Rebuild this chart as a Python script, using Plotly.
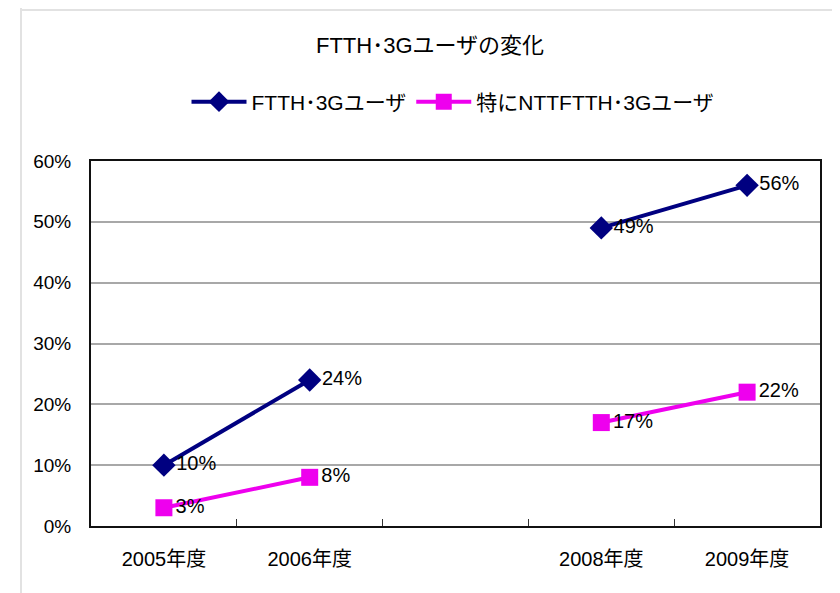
import plotly.graph_objects as go

# data
categories = ["2005年度", "2006年度", "", "2008年度", "2009年度"]
ftth_3g = [0.10, 0.24, None, 0.49, 0.56]
ntt_ftth_3g = [0.03, 0.08, None, 0.17, 0.22]
series_names = ["FTTH･3Gユーザ", "特にNTTFTTH･3Gユーザ"]
title = "FTTH･3Gユーザの変化"

FONT = "Liberation Sans, Arial, Noto Sans CJK JP, sans-serif"
# the page body adds an 8px margin, so the figure is drawn a bit smaller
W, H = 832, 585
L, R, T, B = 83, 20, 153, 67

x = list(range(len(categories)))


def labels(vals):
    return ["" if v is None else "{:.0f}%".format(v * 100) for v in vals]


fig = go.Figure()
fig.add_trace(go.Scatter(
    x=x, y=ftth_3g, name=series_names[0], mode="lines+markers+text",
    line=dict(color="#000080", width=4),
    marker=dict(symbol="diamond", size=18, color="#000080"),
    text=labels(ftth_3g), textposition="middle right",
    textfont=dict(size=20, color="#000"), connectgaps=False,
))
fig.add_trace(go.Scatter(
    x=x, y=ntt_ftth_3g, name=series_names[1], mode="lines+markers+text",
    line=dict(color="#ee00ee", width=4),
    marker=dict(symbol="square", size=17, color="#ee00ee"),
    text=labels(ntt_ftth_3g), textposition="middle right",
    textfont=dict(size=20, color="#000"), connectgaps=False,
))

# page frame lines (light gray boxes around the chart)
pw, ph = W - L - R, H - T - B


def px(v):
    return (v - L) / pw


def py(v):
    return (H - B - v) / ph


frame = dict(color="#e2e2e2", width=2)
shapes = [
    dict(type="line", xref="paper", yref="paper", x0=px(13), x1=px(13), y0=py(0), y1=py(H), line=frame),
    dict(type="line", xref="paper", yref="paper", x0=px(13), x1=px(829), y0=py(2), y1=py(2), line=frame),
    dict(type="line", xref="paper", yref="paper", x0=px(829), x1=px(829), y0=py(2), y1=py(H), line=frame),
]

fig.update_layout(
    width=W, height=H,
    margin=dict(l=L, r=R, t=T, b=B),
    paper_bgcolor="white", plot_bgcolor="white",
    font=dict(family=FONT, size=20, color="#000"),
    title=dict(text=title, x=422 / W, xanchor="center", y=1 - 37 / H, yanchor="middle",
               font=dict(size=22)),
    legend=dict(orientation="h", xref="container", yref="container",
                x=445 / W, xanchor="center", y=1 - 94 / H, yanchor="middle",
                font=dict(size=21), itemwidth=55, tracegroupgap=0),
    showlegend=True,
    shapes=shapes,
)
fig.update_xaxes(
    range=[-0.5, len(categories) - 0.5],
    tickvals=x, ticktext=categories, ticks="",
    minor=dict(tickvals=[i + 0.5 for i in x[:-1]], ticks="inside", ticklen=7,
               tickcolor="#333", tickwidth=1),
    showgrid=False, zeroline=False,
    showline=True, linecolor="#111", linewidth=2, mirror=True,
    ticklabelstandoff=14, tickfont=dict(size=20),
)
fig.update_yaxes(
    range=[0, 0.6], dtick=0.1, tickformat=".0%",
    showgrid=True, gridcolor="#a8a8a8", gridwidth=1.5, zeroline=False,
    showline=True, linecolor="#111", linewidth=2, mirror=True,
    ticks="", ticklabelstandoff=14, tickfont=dict(size=19),
)

fig.write_html("out.html")
